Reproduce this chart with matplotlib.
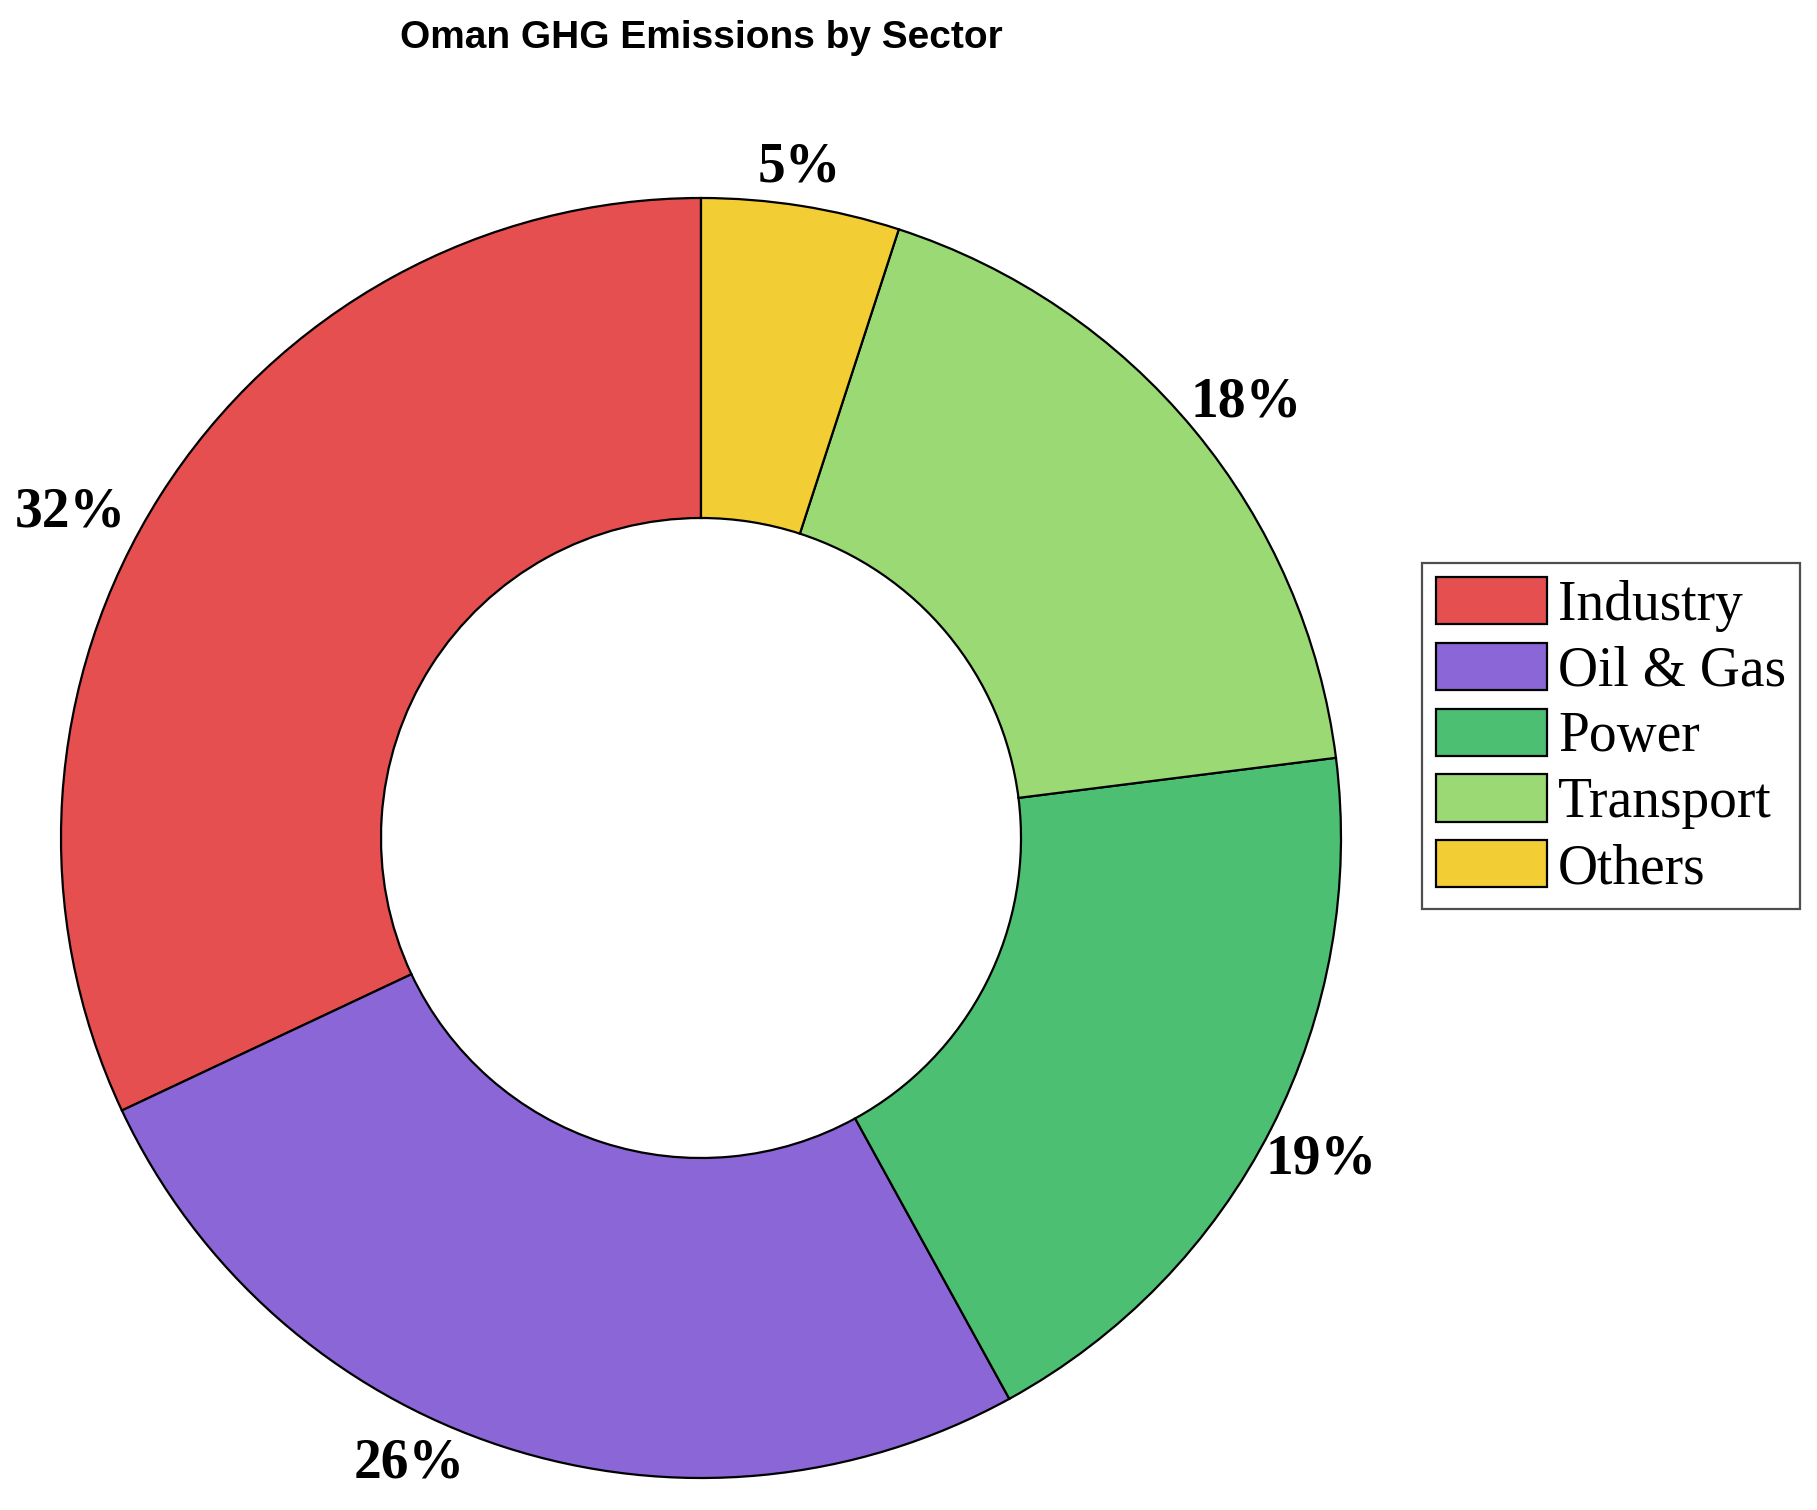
import matplotlib
matplotlib.use("Agg")
import matplotlib.pyplot as plt

sectors = ["Industry", "Oil & Gas", "Power", "Transport", "Others"]
shares = [32, 26, 19, 18, 5]
colors = ["#e54f4f", "#8a66d6", "#4cbf72", "#9ad974", "#f2cd33"]

W, H = 1817, 1510
fig = plt.figure(figsize=(W / 200, H / 200), dpi=200)

# pie centre ~ (701, 838) px, radius ~ 640 px
cx, cy, r = 701, 838, 640
ax = fig.add_axes([(cx - r) / W, (H - cy - r) / H, 2 * r / W, 2 * r / H])

wedges, texts, autotexts = ax.pie(
    shares, colors=colors, startangle=90, counterclock=True,
    autopct="%d%%", pctdistance=1.09,
    wedgeprops=dict(width=0.5, edgecolor="black", linewidth=0.8),
    textprops=dict(family="Liberation Serif", fontsize=20, fontweight="bold"),
)
# label spots as in the original (data units, radius = 1)
label_xy = [(-0.986, 0.509), (-0.456, -0.977), (0.969, -0.503),
            (0.852, 0.681), (0.153, 1.047)]
for t, xy in zip(autotexts, label_xy):
    t.set_position(xy)

ax.set_xlim(-1, 1)
ax.set_ylim(-1, 1)
ax.set_aspect("auto")
ax.axis("off")

fig.text(cx / W, 1 - 38 / H, "Oman GHG Emissions by Sector",
         ha="center", va="center", family="Liberation Sans",
         fontsize=14, fontweight="bold")

leg = fig.legend(wedges, sectors, loc="center left",
                 bbox_to_anchor=(1422 / W, 1 - 736 / H),
                 prop=dict(family="Liberation Serif", size=20),
                 frameon=True, fancybox=False, edgecolor="#222222",
                 handletextpad=0.2, handleheight=0.93, labelspacing=0.2,
                 borderpad=0.25, borderaxespad=0)
leg.get_frame().set_linewidth(0.8)

fig.savefig("out.png", dpi=200, facecolor="white")
